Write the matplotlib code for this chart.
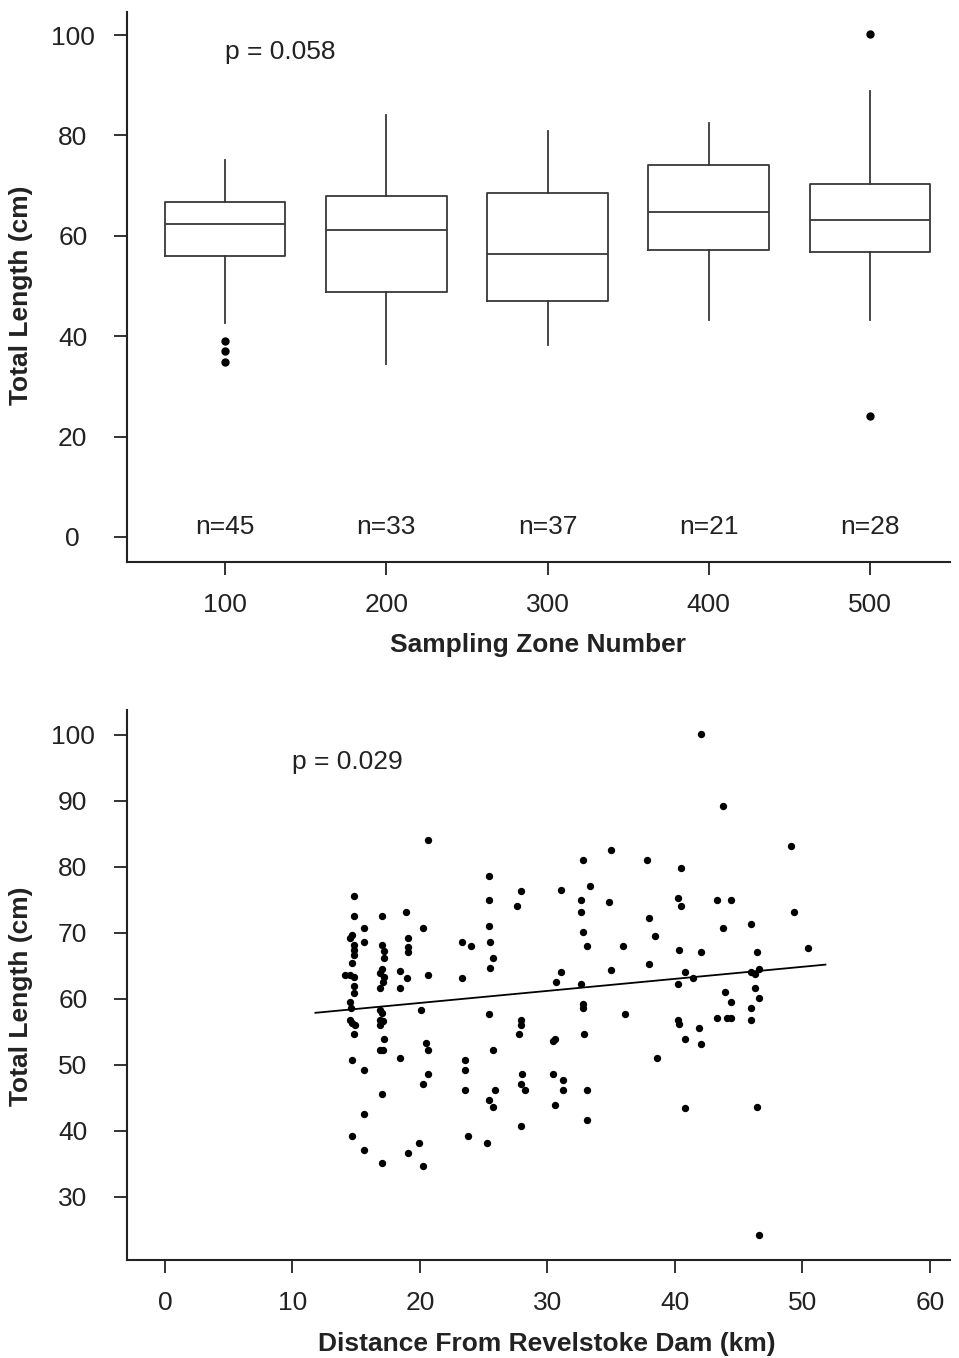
import matplotlib
matplotlib.use("Agg")
import matplotlib.pyplot as plt

plt.rcParams["font.family"] = ["Liberation Sans", "DejaVu Sans"]

# top panel: box plots by sampling zone
zones = ["100", "200", "300", "400", "500"]
counts = [45, 33, 37, 21, 28]
box_q1 = [56.0, 48.8, 47.0, 57.2, 56.8]
box_med = [62.4, 61.2, 56.4, 64.8, 63.2]
box_q3 = [66.8, 68.0, 68.5, 74.1, 70.4]
whisk_lo = [42.7, 34.5, 38.2, 43.3, 43.3]
whisk_hi = [75.2, 84.1, 80.9, 82.5, 88.9]
outliers = [[39.0, 37.0, 34.9], [], [], [], [100.2, 24.1]]

# bottom panel: length vs distance from dam
dist_km = [
    14.8, 14.8, 14.5, 14.7, 14.8, 14.8, 14.8, 14.7, 14.1, 14.55, 14.8,
    14.8, 14.8, 14.55, 14.6, 14.5, 14.7, 14.9, 14.8, 14.7, 14.7,
    15.6, 15.6, 15.6, 15.6, 15.6,
    17.05, 17.05, 17.15, 17.2, 17.0, 16.9, 17.2, 17.1, 16.9, 16.9, 17.0,
    16.9, 17.1, 16.9, 17.2, 16.9, 17.1, 17.05, 17.05,
    18.9, 19.1, 19.1, 19.1, 18.4, 18.95, 18.4, 18.4, 19.1, 19.9,
    20.65, 20.2, 20.65, 20.1, 20.5, 20.65, 20.65, 20.2, 20.2,
    23.3, 23.98, 23.3, 23.5, 23.5, 23.5, 23.8,
    25.4, 25.4, 25.4, 25.5, 25.7, 25.5, 25.4, 25.7, 25.9, 25.4, 25.7, 25.25,
    27.9, 27.6, 27.9, 27.9, 27.8, 28.0, 27.9, 28.2, 27.9,
    31.06, 31.06, 30.7, 30.6, 30.4, 30.4, 31.2, 31.2, 30.6,
    32.75, 33.3, 32.6, 32.6, 32.75, 33.1, 32.6, 32.8, 32.75, 32.9, 33.1, 33.1,
    35.0, 34.8, 35.0, 35.9, 36.1,
    37.8, 37.96, 38.4, 37.96, 38.6,
    40.5, 40.2, 40.5, 40.3, 40.8, 41.4, 40.2, 40.2, 40.3, 41.9, 40.8, 42.06,
    40.8, 42.06, 42.06,
    43.76, 43.3, 44.4, 43.76, 43.9, 44.4, 43.3, 44.1, 44.4,
    45.96, 46.45, 45.96, 46.3, 46.6, 46.3, 46.6, 45.96, 45.96, 46.45, 46.6,
    49.1, 49.3, 50.4,
]
length_cm = [
    75.6, 72.6, 69.3, 69.7, 68.2, 67.4, 66.7, 65.4, 63.7, 63.6, 63.4,
    61.9, 60.9, 59.5, 58.6, 56.8, 56.4, 56.1, 54.7, 50.8, 39.2,
    70.7, 68.7, 49.2, 42.5, 37.1,
    72.6, 68.1, 67.2, 66.2, 64.6, 63.9, 63.4, 62.6, 61.6, 58.4, 57.8,
    56.8, 56.7, 56.1, 54.0, 52.3, 52.3, 45.6, 35.2,
    73.2, 69.2, 67.8, 67.1, 64.2, 63.2, 61.7, 51.0, 36.7, 38.2,
    84.1, 70.7, 63.7, 58.3, 53.3, 52.2, 48.6, 47.1, 34.7,
    68.6, 68.0, 63.2, 50.8, 49.2, 46.2, 39.2,
    78.6, 75.0, 71.1, 68.6, 66.2, 64.7, 57.7, 52.2, 46.2, 44.7, 43.7, 38.2,
    76.3, 74.1, 56.8, 56.1, 54.7, 48.6, 47.1, 46.2, 40.7,
    76.5, 64.1, 62.5, 54.0, 53.7, 48.6, 47.7, 46.2, 44.0,
    81.1, 77.1, 75.0, 73.2, 70.2, 68.0, 62.3, 59.2, 58.6, 54.7, 46.2, 41.6,
    82.6, 74.7, 64.4, 68.0, 57.7,
    81.1, 72.3, 69.5, 65.3, 51.0,
    79.8, 75.3, 74.1, 67.4, 64.1, 63.2, 62.3, 56.8, 56.2, 55.6, 54.0, 53.1,
    43.4, 100.2, 67.1,
    89.2, 75.0, 75.0, 70.8, 61.0, 59.5, 57.1, 57.1, 57.1,
    71.4, 67.1, 64.1, 63.8, 64.6, 61.7, 60.2, 58.6, 56.8, 43.7, 24.2,
    83.2, 73.2, 67.7,
]
fit_x = [11.8, 51.8]
fit_y = [57.9, 65.2]

line_col = "#383838"
fs = 19

fig = plt.figure(figsize=(9.59, 13.58), dpi=100)
ax1 = fig.add_axes([0.1324, 0.5862, 0.8582, 0.4050])
ax2 = fig.add_axes([0.1324, 0.0722, 0.8582, 0.4050])

stats = []
for i in range(len(zones)):
    stats.append({"q1": box_q1[i], "med": box_med[i], "q3": box_q3[i],
                  "whislo": whisk_lo[i], "whishi": whisk_hi[i],
                  "fliers": outliers[i], "label": zones[i]})
pos = list(range(1, len(zones) + 1))
ax1.bxp(stats, positions=pos, widths=0.75, showcaps=False,
        boxprops=dict(color=line_col, linewidth=1.3),
        medianprops=dict(color=line_col, linewidth=1.3),
        whiskerprops=dict(color=line_col, linewidth=1.3),
        flierprops=dict(marker="o", markerfacecolor="black",
                        markeredgecolor="black", markersize=5))
for p, n in zip(pos, counts):
    ax1.text(p, 2.0, "n=%d" % n, ha="center", va="center", fontsize=fs, color="#222222")
ax1.text(1.0, 96.6, "p = 0.058", ha="left", va="center", fontsize=fs, color="#222222")
ax1.set_xlim(0.392, 5.496)
ax1.set_ylim(-4.98, 104.6)
ax1.set_xticks(pos)
ax1.set_xticklabels(zones)
ax1.set_yticks([0, 20, 40, 60, 80, 100])
ax1.set_xlabel("Sampling Zone Number", fontsize=fs, fontweight="bold", color="#222222")
ax1.set_ylabel("Total Length (cm)", fontsize=fs, fontweight="bold", color="#222222")
ax1.xaxis.set_label_coords(0.5, -0.129)
ax1.yaxis.set_label_coords(-0.114, 0.485)

ax2.scatter(dist_km, length_cm, s=28, c="black", linewidths=0, zorder=3)
ax2.plot(fit_x, fit_y, color="black", linewidth=1.3)
ax2.text(10.0, 95.9, "p = 0.029", ha="left", va="center", fontsize=fs, color="#222222")
ax2.set_xlim(-2.98, 61.57)
ax2.set_ylim(20.45, 103.79)
ax2.set_xticks([0, 10, 20, 30, 40, 50, 60])
ax2.set_yticks([30, 40, 50, 60, 70, 80, 90, 100])
ax2.set_xlabel("Distance From Revelstoke Dam (km)", fontsize=fs, fontweight="bold", color="#222222")
ax2.set_ylabel("Total Length (cm)", fontsize=fs, fontweight="bold", color="#222222")
ax2.xaxis.set_label_coords(0.51, -0.131)
ax2.yaxis.set_label_coords(-0.114, 0.48)

for ax in (ax1, ax2):
    ax.spines["top"].set_visible(False)
    ax.spines["right"].set_visible(False)
    for s in ("left", "bottom"):
        ax.spines[s].set_linewidth(1.5)
        ax.spines[s].set_color("#222222")
    ax.tick_params(axis="both", direction="out", length=9.5, width=1.3,
                   color="#222222", labelsize=fs, labelcolor="#222222")
    ax.tick_params(axis="x", pad=13)
    ax.tick_params(axis="y", pad=29.5)
    for lab in ax.get_yticklabels():
        lab.set_horizontalalignment("center")

fig.savefig("out.png", dpi=100)
